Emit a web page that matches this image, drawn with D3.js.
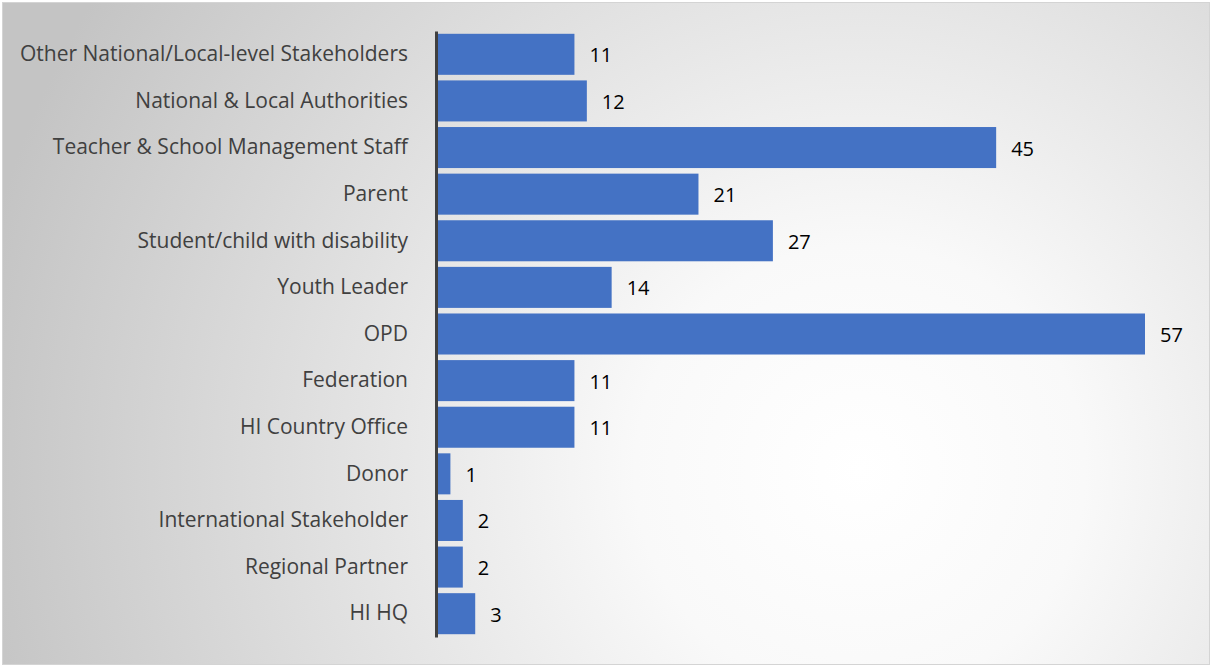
<!DOCTYPE html>
<html>
<head>
<meta charset="utf-8">
<script src="https://cdn.jsdelivr.net/npm/d3@7"></script>
<style>
  body { margin: 0; background: #fff; }
  .cat-label { font-family: "Open Sans", sans-serif; font-size: 21px; fill: #404040; }
  .val-label { font-family: "Open Sans", sans-serif; font-size: 20px; fill: #000; }
</style>
</head>
<body>
<div id="chart"></div>
<script>
// categories top to bottom
var categories = [
    "Other National/Local-level Stakeholders",
    "National & Local Authorities",
    "Teacher & School Management Staff",
    "Parent",
    "Student/child with disability",
    "Youth Leader",
    "OPD",
    "Federation",
    "HI Country Office",
    "Donor",
    "International Stakeholder",
    "Regional Partner",
    "HI HQ"
];
var counts = [11, 12, 45, 21, 27, 14, 57, 11, 11, 1, 2, 2, 3];

var data = categories.map((c, i) => ({category: c, value: counts[i]}));

const W = 1212, H = 666;
const margin = {top: 31, right: 67, bottom: 29, left: 438};
const width = W - margin.left - margin.right,
      height = H - margin.top - margin.bottom;

const svg = d3.select("#chart")
    .append("svg")
    .attr("width", W)
    .attr("height", H);

// background gradient
const defs = svg.append("defs");
const grad = defs.append("radialGradient")
    .attr("id", "bg")
    .attr("gradientUnits", "userSpaceOnUse")
    .attr("cx", 860).attr("cy", 470).attr("r", 900);
grad.append("stop").attr("offset", "0%").attr("stop-color", "#ffffff");
grad.append("stop").attr("offset", "25%").attr("stop-color", "#f9f9f9");
grad.append("stop").attr("offset", "100%").attr("stop-color", "#c4c4c4");

svg.append("rect")
    .attr("x", 2.5).attr("y", 2.5)
    .attr("width", W - 5).attr("height", H - 4)
    .attr("fill", "url(#bg)")
    .attr("stroke", "#d4d4d4")
    .attr("stroke-width", 1);

const g = svg.append("g")
    .attr("transform", `translate(${margin.left},${margin.top})`);

const xScale = d3.scaleLinear()
    .domain([0, 57])
    .range([0, 707]);

const yScale = d3.scaleBand()
    .domain(categories)
    .range([0, height])
    .paddingInner(0.12)
    .paddingOuter(0.06);

// bars
g.selectAll("rect.bar")
    .data(data)
    .join("rect")
    .attr("class", "bar")
    .attr("x", xScale(0))
    .attr("y", d => yScale(d.category))
    .attr("width", d => xScale(d.value) - xScale(0))
    .attr("height", yScale.bandwidth())
    .attr("fill", "#4472c4");

// value labels
g.selectAll("text.val-label")
    .data(data)
    .join("text")
    .attr("class", "val-label")
    .attr("x", d => xScale(d.value) + 15)
    .attr("y", d => yScale(d.category) + yScale.bandwidth() / 2 + 1)
    .attr("dy", "0.35em")
    .text(d => d.value);

// y axis
const yAxis = d3.axisLeft(yScale).tickSize(0).tickPadding(28);
const yAxisGroup = g.append("g")
    .attr("class", "y-axis")
    .attr("transform", "translate(-2,0)")
    .call(yAxis);
yAxisGroup.select(".domain")
    .attr("stroke", "#404040")
    .attr("stroke-width", 3);
yAxisGroup.selectAll("text")
    .attr("class", "cat-label")
    .attr("fill", null)
    .attr("font-size", null)
    .attr("font-family", null);
</script>
</body>
</html>
